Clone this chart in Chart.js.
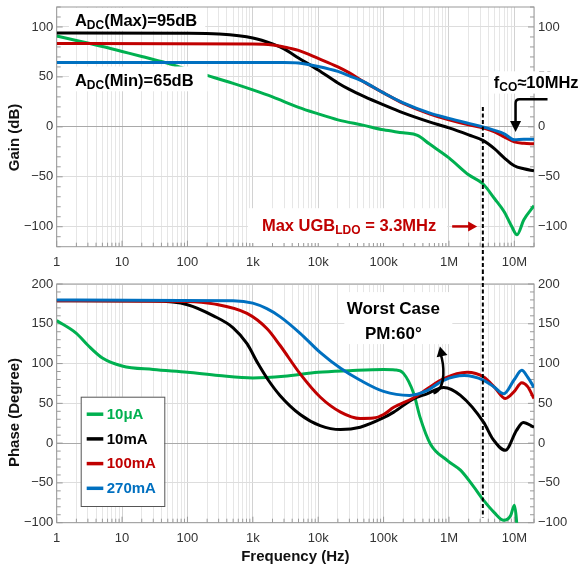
<!DOCTYPE html>
<html><head><meta charset="utf-8">
<script src="https://cdn.jsdelivr.net/npm/chart.js@4.4.1/dist/chart.umd.min.js"></script>
<style>
html,body{margin:0;padding:0;background:#fff;}
body{width:581px;height:571px;overflow:hidden;position:relative;}
canvas{position:absolute;left:0;}
</style></head>
<body>
<canvas id="gainChart" width="581" height="270" style="top:0"></canvas>
<canvas id="phaseChart" width="581" height="301" style="top:270px"></canvas>
<script>
// ---------------- DATA ----------------
const seriesNames = ['10\u03bcA', '10mA', '100mA', '270mA'];
const seriesColors = ['#00b050', '#000000', '#c00000', '#0070c0'];

const xDecades = [1, 10, 100, 1e3, 1e4, 1e5, 1e6, 1e7];
const xTickLabels = ['1', '10', '100', '1k', '10k', '100k', '1M', '10M'];
const gainTicks = [-100, -50, 0, 50, 100];
const phaseTicks = [-100, -50, 0, 50, 100, 150, 200];

// Gain (dB)
const freqGain10uA = [1,2,5,10,20,50,100,200,500,1e3,2e3,5e3,1e4,2e4,5e4,1e5,2e5,3.3e5,5e5,1e6,2e6,3.3e6,5e6,7e6,9e6,1.1e7,1.4e7,2e7];
const gain10uA     = [91,86.5,80.5,75.5,70.5,63.5,57.5,51.5,43.5,37,30,19.5,13,7,1.5,-3,-6,-8.5,-17,-31,-48,-57,-72,-85,-99,-108,-93,-79];
const freqGain10mA = [1,100,300,1e3,2e3,3e3,5e3,1e4,2e4,3e4,5e4,1e5,2e5,5e5,1e6,2e6,3.3e6,5e6,7e6,1e7,1.4e7,2e7];
const gain10mA     = [94,93.8,93,89,83,78,69,57,44,37.5,30.5,22,14,5,-1,-8,-13.5,-22,-31,-39,-42,-44];
const freqGain100mA = [1,1e3,2e3,3e3,5e3,1e4,2e4,3e4,5e4,1e5,2e5,5e5,1e6,2e6,3.3e6,5e6,7e6,1e7,1.4e7,2e7];
const gain100mA     = [83.5,83,82,80,76.5,68.5,60,54,45,34,23.5,13,7,2,-1,-5,-10,-15,-16.5,-17];
const freqGain270mA = [1,3e3,5e3,1e4,2e4,3e4,5e4,1e5,2e5,5e5,1e6,2e6,3.3e6,5e6,7e6,1e7,1.4e7,2e7];
const gain270mA     = [64.5,64.5,64,60.5,55.5,51,45,34,24,14,8.5,3.5,0,-3.5,-7,-13,-12.5,-12.5];

// Phase (Degree)
const freqPhase10uA = [1,2,3,5,10,30,100,300,1e3,3e3,1e4,3e4,1e5,1.5e5,2e5,2.9e5,3.6e5,5.2e5,9.5e5,1.5e6,2.4e6,3.4e6,4.9e6,6.9e6,8.8e6,1e7,1.08e7,1.15e7];
const phase10uA     = [154,138,123,107,97,92.5,89,85,82,84,89,91,92.5,92,88,62,33,-1,-22,-34,-55,-72,-87,-97,-91,-78,-97,-140];
const freqPhase10mA = [1,30,100,250,500,815,1.2e3,1.7e3,2.6e3,5.3e3,1.07e4,2.2e4,4.4e4,1e5,1.43e5,2.9e5,4.6e5,8.3e5,1.5e6,3.4e6,4.7e6,7.3e6,1.08e7,1.37e7,2e7];
const phase10mA     = [179,178.5,174,160,145,125,100,80,60,36,22,17,20,32,39,56,62,70,60,26,5,-9,16,26,20];
const freqPhase100mA = [1,100,250,815,1.64e3,2.6e3,5.3e3,1.07e4,2.2e4,4.4e4,7e4,1e5,1.43e5,2.9e5,4.6e5,8.3e5,1.9e6,3.4e6,5e6,7.3e6,1e7,1.3e7,1.6e7,2e7];
const phase100mA     = [179,178,175,163,144,123,87,58,39,31,31.5,36,45,57,68,81,89,83,70,56,65,76,71,56];
const freqPhase270mA = [1,500,1e3,1.64e3,2.6e3,5.3e3,1.07e4,2.2e4,4.4e4,1e5,2.5e5,4.6e5,8.3e5,1.7e6,3.4e6,5e6,6.9e6,1e7,1.3e7,1.6e7,2e7];
const phase270mA     = [180,179,176,169,159,138,114,94,79,65,60,66,79,85,79,70,62,80,91.5,83,70];

// ---------------- HELPERS ----------------
const FONT = "'Liberation Sans', Arial, Helvetica, sans-serif";
Chart.defaults.font.family = FONT;
Chart.defaults.animation = false;

const X_MIN = 1, X_MAX = 2e7;
const xAllTicks = [];
for (let e = 0; e <= 7; e++) for (let d = 1; d <= 9; d++) { const v = d * Math.pow(10, e); if (v <= X_MAX) xAllTicks.push(v); }

function pts(f, v) { return f.map((x, i) => ({ x: x, y: v[i] })); }
function fmtY(v) { return v < 0 ? '\u2212' + Math.abs(v) : String(v); }
function isDecade(v) { return xDecades.indexOf(v) >= 0; }

function makeDatasets(freqs, vals) {
  return freqs.map((f, i) => ({
    label: seriesNames[i],
    data: pts(f, vals[i]),
    borderColor: seriesColors[i],
    backgroundColor: seriesColors[i],
    borderWidth: 3,
    pointRadius: 0,
    fill: false,
    cubicInterpolationMode: 'monotone',
    order: [3, 2, 1, 0][i]
  }));
}

function xScale(height, title) {
  return {
    type: 'logarithmic', position: 'bottom', min: X_MIN, max: X_MAX,
    afterBuildTicks: s => { s.ticks = xAllTicks.map(v => ({ value: v })); },
    afterFit: s => { s.height = height; s.paddingLeft = 0; s.paddingRight = 0; },
    grid: { color: c => (c.tick && isDecade(c.tick.value)) ? '#d2d2d2' : '#e6e6e6', lineWidth: 1, drawTicks: false },
    border: { display: false },
    ticks: {
      autoSkip: false, maxRotation: 0, minRotation: 0, padding: 8, color: '#333', font: { size: 13 },
      callback: (val) => { const i = xDecades.indexOf(val); return i >= 0 ? xTickLabels[i] : ''; }
    },
    title: title ? { display: true, text: title, color: '#111', font: { size: 15, weight: 'bold' }, padding: { top: 0, bottom: 5 } } : { display: false }
  };
}

function yScale(pos, min, max, tickArr, width, grid) {
  return {
    type: 'linear', position: pos, min: min, max: max,
    afterBuildTicks: s => { s.ticks = tickArr.map(v => ({ value: v })); },
    afterFit: s => { s.width = width; s.paddingTop = 0; s.paddingBottom = 0; },
    grid: { display: grid, drawTicks: false, color: c => (c.tick && c.tick.value === 0) ? '#a9a9a9' : '#dddddd', lineWidth: 1 },
    border: { display: false },
    ticks: { padding: pos === 'left' ? 3.5 : 4, color: '#333', font: { size: 13 }, callback: v => fmtY(v) }
  };
}

function drawRich(ctx, segs, x, y, size, subSize, color) {
  ctx.fillStyle = color;
  ctx.textBaseline = 'alphabetic';
  ctx.textAlign = 'left';
  let cx = x;
  segs.forEach(s => {
    ctx.font = 'bold ' + (s.sub ? subSize : size) + 'px ' + FONT;
    ctx.fillText(s.t, cx, y + (s.sub ? 3 : 0));
    cx += ctx.measureText(s.t).width;
  });
  return cx - x;
}
function richWidth(ctx, segs, size, subSize) {
  let w = 0;
  segs.forEach(s => { ctx.font = 'bold ' + (s.sub ? subSize : size) + 'px ' + FONT; w += ctx.measureText(s.t).width; });
  return w;
}

function frameAndTicks(chart, minorStep) {
  const { ctx, chartArea: a } = chart;
  const x = chart.scales.x, y = chart.scales.y;
  ctx.save();
  ctx.strokeStyle = '#9a9a9a'; ctx.lineWidth = 1;
  ctx.beginPath();
  xAllTicks.forEach(v => {
    const p = x.getPixelForValue(v); const len = isDecade(v) ? 6 : 4;
    ctx.moveTo(p, a.bottom); ctx.lineTo(p, a.bottom - len);
  });
  for (let v = y.min; v <= y.max; v += minorStep) {
    const p = y.getPixelForValue(v);
    const len = (v % 50 === 0) ? 6 : 4;
    ctx.moveTo(a.left, p); ctx.lineTo(a.left + len, p);
    ctx.moveTo(a.right, p); ctx.lineTo(a.right - len, p);
  }
  ctx.stroke();
  ctx.strokeStyle = '#999999';
  ctx.strokeRect(a.left, a.top, a.right - a.left, a.bottom - a.top);
  ctx.restore();
}

function drawYTitle(ctx, text, cx, cy) {
  ctx.save();
  ctx.translate(cx, cy); ctx.rotate(-Math.PI / 2);
  ctx.font = 'bold 15px ' + FONT; ctx.fillStyle = '#111';
  ctx.textAlign = 'center'; ctx.textBaseline = 'middle';
  ctx.fillText(text, 0, 0);
  ctx.restore();
}

function labelBox(ctx, chart, lab) {
  const X = chart.scales.x, Y = chart.scales.y;
  const x = X.getPixelForValue(lab.f), y = Y.getPixelForValue(lab.v);
  const w = richWidth(ctx, lab.segs, lab.size, lab.subSize);
  const cap = lab.size * 0.716;
  ctx.fillStyle = '#ffffff';
  ctx.fillRect(x - lab.pad[0], y - cap - lab.pad[2], w + lab.pad[0] + lab.pad[1], cap + lab.pad[2] + lab.pad[3]);
  drawRich(ctx, lab.segs, x, y, lab.size, lab.subSize, lab.color);
}

function dashedLine(ctx, chart, f, y1, y2) {
  const p = chart.scales.x.getPixelForValue(f);
  ctx.save();
  ctx.strokeStyle = '#000'; ctx.lineWidth = 2; ctx.setLineDash([4, 2.5]);
  ctx.beginPath(); ctx.moveTo(p, y1); ctx.lineTo(p, y2); ctx.stroke();
  ctx.restore();
}

function arrowHead(ctx, tx, ty, dx, dy, len, half, color) {
  const n = Math.hypot(dx, dy); dx /= n; dy /= n;
  const bx = tx - dx * len, by = ty - dy * len;
  ctx.fillStyle = color;
  ctx.beginPath();
  ctx.moveTo(tx, ty);
  ctx.lineTo(bx - dy * half, by + dx * half);
  ctx.lineTo(bx + dy * half, by - dx * half);
  ctx.closePath(); ctx.fill();
}

// ---------------- ANNOTATIONS (data coordinates) ----------------
const UGB_FREQ = 3.3e6;
const gainLabels = [
  { f: 1.9, v: 101.2, segs: [{ t: 'A' }, { t: 'DC', sub: true }, { t: '(Max)=95dB' }], size: 16.5, subSize: 12, color: '#000', pad: [6, 8, 6, 5] },
  { f: 1.9, v: 40.6, segs: [{ t: 'A' }, { t: 'DC', sub: true }, { t: '(Min)=65dB' }], size: 16.5, subSize: 12, color: '#000', pad: [6, 14, 8, 5] },
  { f: 4.85e6, v: 38.8, segs: [{ t: 'f' }, { t: 'CO', sub: true }, { t: '\u224810MHz' }], size: 16.5, subSize: 12, color: '#000', pad: [5, 3, 5, 5.5] },
  { f: 1377, v: -104.3, segs: [{ t: 'Max UGB' }, { t: 'LDO', sub: true }, { t: ' = 3.3MHz' }], size: 16.5, subSize: 12, color: '#c00000', pad: [14, 11, 11, 12] }
];

const gainPlugin = {
  id: 'gainAnno',
  beforeDatasetsDraw(chart) { frameAndTicks(chart, 10); },
  afterDatasetsDraw(chart) {
    const ctx = chart.ctx, X = chart.scales.x, Y = chart.scales.y;
    ctx.save();
    gainLabels.forEach(l => labelBox(ctx, chart, l));
    // fCO arrow
    const ax0 = X.getPixelForValue(3.22e7), ay0 = Y.getPixelForValue(27.7);
    const ax1 = X.getPixelForValue(1.045e7), ay1 = Y.getPixelForValue(-5.1);
    ctx.strokeStyle = '#000'; ctx.lineWidth = 2.5;
    ctx.beginPath();
    ctx.moveTo(ax0, ay0); ctx.lineTo(ax1 + 4, ay0);
    ctx.quadraticCurveTo(ax1, ay0, ax1, ay0 + 4);
    ctx.lineTo(ax1, ay1 - 9);
    ctx.stroke();
    arrowHead(ctx, ax1, ay1, 0, 1, 11, 5.5, '#000');
    // red arrow
    const rx0 = X.getPixelForValue(1.12e6), rx1 = X.getPixelForValue(2.7e6), ry = Y.getPixelForValue(-99.7);
    ctx.strokeStyle = '#c00000'; ctx.lineWidth = 2.5;
    ctx.beginPath(); ctx.moveTo(rx0, ry); ctx.lineTo(rx1 - 7, ry); ctx.stroke();
    arrowHead(ctx, rx1, ry, 1, 0, 9, 5, '#c00000');
    ctx.restore();
    dashedLine(ctx, chart, UGB_FREQ, Y.getPixelForValue(20), chart.height);
    drawYTitle(ctx, 'Gain (dB)', 15, 137.5);
  }
};

const worstCase = { f: 1.41e5, v1: 162.8, v2: 131.3, lines: ['Worst Case', 'PM:60\u00b0'], size: 17 };
const worstArrow = [[5.8e5, 62.5], [9.5e5, 68.8], [8.24e5, 101.5], [7.28e5, 121.6]];

const phasePlugin = {
  id: 'phaseAnno',
  beforeDatasetsDraw(chart) { frameAndTicks(chart, 10); },
  afterDatasetsDraw(chart) {
    const ctx = chart.ctx, X = chart.scales.x, Y = chart.scales.y, a = chart.chartArea;
    ctx.save();
    // Worst case box + text
    const cx = X.getPixelForValue(worstCase.f);
    const b1 = Y.getPixelForValue(worstCase.v1), b2 = Y.getPixelForValue(worstCase.v2);
    ctx.fillStyle = '#fff';
    ctx.fillRect(cx - 49, b1 - 21.5, 108, 52);
    ctx.font = 'bold ' + worstCase.size + 'px ' + FONT;
    ctx.fillStyle = '#000'; ctx.textAlign = 'center'; ctx.textBaseline = 'alphabetic';
    ctx.fillText(worstCase.lines[0], cx, b1);
    ctx.fillText(worstCase.lines[1], cx, b2);
    // curved arrow
    const P = worstArrow.map(p => [X.getPixelForValue(p[0]), Y.getPixelForValue(p[1])]);
    ctx.strokeStyle = '#000'; ctx.lineWidth = 2.5;
    ctx.beginPath(); ctx.moveTo(P[0][0], P[0][1]);
    ctx.bezierCurveTo(P[1][0], P[1][1], P[2][0], P[2][1], P[3][0] + 0.5, P[3][1] + 7);
    ctx.stroke();
    arrowHead(ctx, P[3][0], P[3][1], P[3][0] - P[2][0], P[3][1] - P[2][1], 10, 5.5, '#000');
    // legend
    const lx = a.left + 24, ly = a.top + 112.7, lw = 83.6, lh = 109.3;
    ctx.fillStyle = '#fff'; ctx.fillRect(lx, ly, lw, lh);
    ctx.strokeStyle = '#555'; ctx.lineWidth = 1; ctx.strokeRect(lx + 0.5, ly + 0.5, lw, lh);
    ctx.font = 'bold 15px ' + FONT; ctx.textAlign = 'left'; ctx.textBaseline = 'middle';
    seriesNames.forEach((n, i) => {
      const yy = ly + 17.5 + i * 24.7;
      ctx.strokeStyle = seriesColors[i]; ctx.lineWidth = 3.5;
      ctx.beginPath(); ctx.moveTo(lx + 6, yy); ctx.lineTo(lx + 22.6, yy); ctx.stroke();
      ctx.fillStyle = seriesColors[i];
      ctx.fillText(n, lx + 26, yy + 0.5);
    });
    ctx.restore();
    dashedLine(ctx, chart, UGB_FREQ, 0, Y.getPixelForValue(-93.5));
    drawYTitle(ctx, 'Phase (Degree)', 14.5, 142.5);
  }
};

const commonOpts = {
  responsive: false, animation: false, events: [],
  plugins: { legend: { display: false }, tooltip: { enabled: false } }
};

new Chart(document.getElementById('gainChart'), {
  type: 'line',
  data: { datasets: makeDatasets([freqGain10uA, freqGain10mA, freqGain100mA, freqGain270mA], [gain10uA, gain10mA, gain100mA, gain270mA]) },
  options: Object.assign({}, commonOpts, {
    layout: { padding: { top: 7, left: 0, right: 0, bottom: 0 } },
    scales: {
      x: xScale(23.3, null),
      y: yScale('left', -120, 120, gainTicks, 56.7, true),
      y2: yScale('right', -120, 120, gainTicks, 47, false)
    }
  }),
  plugins: [gainPlugin]
});

new Chart(document.getElementById('phaseChart'), {
  type: 'line',
  data: { datasets: makeDatasets([freqPhase10uA, freqPhase10mA, freqPhase100mA, freqPhase270mA], [phase10uA, phase10mA, phase100mA, phase270mA]) },
  options: Object.assign({}, commonOpts, {
    layout: { padding: { top: 14, left: 0, right: 0, bottom: 0 } },
    scales: {
      x: xScale(48.3, 'Frequency (Hz)'),
      y: yScale('left', -100, 200, phaseTicks, 56.7, true),
      y2: yScale('right', -100, 200, phaseTicks, 47, false)
    }
  }),
  plugins: [phasePlugin]
});
</script>
</body></html>
